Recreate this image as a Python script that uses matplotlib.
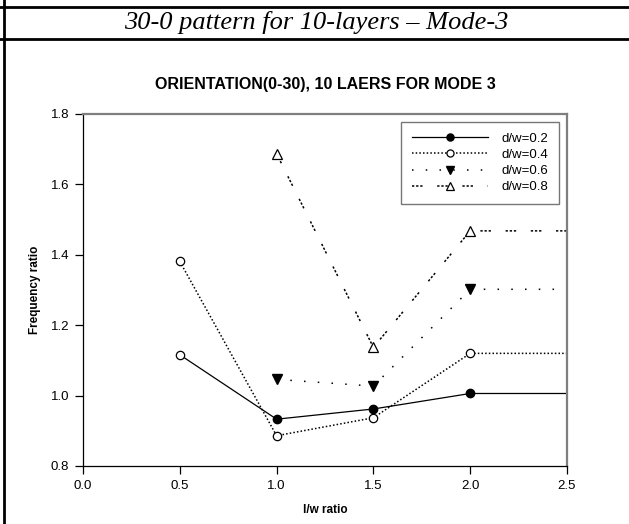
import matplotlib
matplotlib.use("Agg")
from matplotlib import pyplot as plt
from matplotlib.lines import Line2D

# l/w ratio, the last point just carries each curve flat past the axis edge
lw_02 = [0.5, 1.0, 1.5, 2.0, 3.0]
fr_02 = [1.116, 0.933, 0.962, 1.006, 1.006]
lw_04 = [0.5, 1.0, 1.5, 2.0, 3.0]
fr_04 = [1.381, 0.886, 0.937, 1.120, 1.120]
lw_06 = [1.0, 1.5, 2.0, 3.0]
fr_06 = [1.046, 1.027, 1.302, 1.302]
lw_08 = [1.0, 1.5, 2.0, 3.0]
fr_08 = [1.687, 1.137, 1.468, 1.468]

series_names = ['d/w=0.2', 'd/w=0.4', 'd/w=0.6', 'd/w=0.8']
x_ticks = [0.0, 0.5, 1.0, 1.5, 2.0, 2.5]
y_ticks = [0.8, 1.0, 1.2, 1.4, 1.6, 1.8]


def main():
    fig = plt.figure(figsize=(6.29, 5.24), dpi=100)
    W, H = 629, 524

    # table cell frame around the chart
    fig.add_artist(Line2D([4 / W, 4 / W], [0, 1], transform=fig.transFigure, color='black', lw=2))
    fig.add_artist(Line2D([0, 1], [1 - 6.5 / H, 1 - 6.5 / H], transform=fig.transFigure, color='black', lw=2))
    fig.add_artist(Line2D([0, 1], [1 - 39 / H, 1 - 39 / H], transform=fig.transFigure, color='black', lw=2))
    fig.text(316 / W, 1 - 23 / H, '30-0 pattern for 10-layers \u2013 Mode-3', ha='center', va='center',
             family='Liberation Serif', style='italic', fontsize=19)

    ax = fig.add_axes([83 / W, 1 - 466 / H, (567 - 83) / W, (466 - 114) / H])

    sans = 'Liberation Sans'
    ms = 6
    ax.plot(lw_02, fr_02, color='black', lw=0.9, marker='o', ms=ms, mfc='black', mec='black',
            markevery=[1, 2, 3], label=series_names[0])
    ax.plot(lw_02[:1], fr_02[:1], ls='none', marker='o', ms=ms, mfc='white', mec='black', mew=0.9)
    ax.plot(lw_04, fr_04, color='black', lw=1.1, ls=(0, (1, 1.4)), marker='o', ms=ms, mfc='white',
            mec='black', mew=0.9, markevery=[0, 1, 2, 3], label=series_names[1])
    ax.plot(lw_06, fr_06, color='black', lw=1.1, ls=(0, (1, 8)), marker='v', ms=7, mfc='black',
            mec='black', markevery=[0, 1, 2], label=series_names[2])
    ax.plot(lw_08, fr_08, color='black', lw=1.1, ls=(0, (1.5, 1.2, 1.5, 1.2, 1.5, 9.6)), marker='^', ms=7,
            mfc='white', mec='black', mew=0.9, markevery=[0, 1, 2], label=series_names[3])

    ax.set_xlim(0, 2.5)
    ax.set_ylim(0.8, 1.8)
    ax.set_xticks(x_ticks)
    ax.set_yticks(y_ticks)
    ax.set_xticklabels([f'{t:.1f}' for t in x_ticks], family=sans, fontsize=9.5)
    ax.set_yticklabels([f'{t:.1f}' for t in y_ticks], family=sans, fontsize=9.5)
    ax.tick_params(direction='out', length=6, width=0.9, pad=4, top=False, right=False)

    for side in ['top', 'right']:
        ax.spines[side].set_color('#7f7f7f')
        ax.spines[side].set_linewidth(1.6)
    for side in ['left', 'bottom']:
        ax.spines[side].set_linewidth(0.9)

    ax.set_title('ORIENTATION(0-30), 10 LAERS FOR MODE 3', family=sans, fontweight='bold', fontsize=11.5, pad=18)
    ax.set_xlabel('l/w ratio', family=sans, fontweight='bold', fontsize=8.5, labelpad=9)
    ax.set_ylabel('Frequency ratio', family=sans, fontweight='bold', fontsize=8.5, labelpad=7)

    leg = ax.legend(loc='upper right', bbox_to_anchor=(0.983, 0.977), borderaxespad=0,
                    prop={'family': sans, 'size': 9.5}, frameon=True, fancybox=False,
                    edgecolor='#555555', handlelength=5.8, handletextpad=1.0, labelspacing=0.3,
                    borderpad=0.8, markerscale=0.85)
    leg.get_frame().set_linewidth(1.0)

    plt.savefig('out.png', dpi=100)


if __name__ in '__main__':
    main()
